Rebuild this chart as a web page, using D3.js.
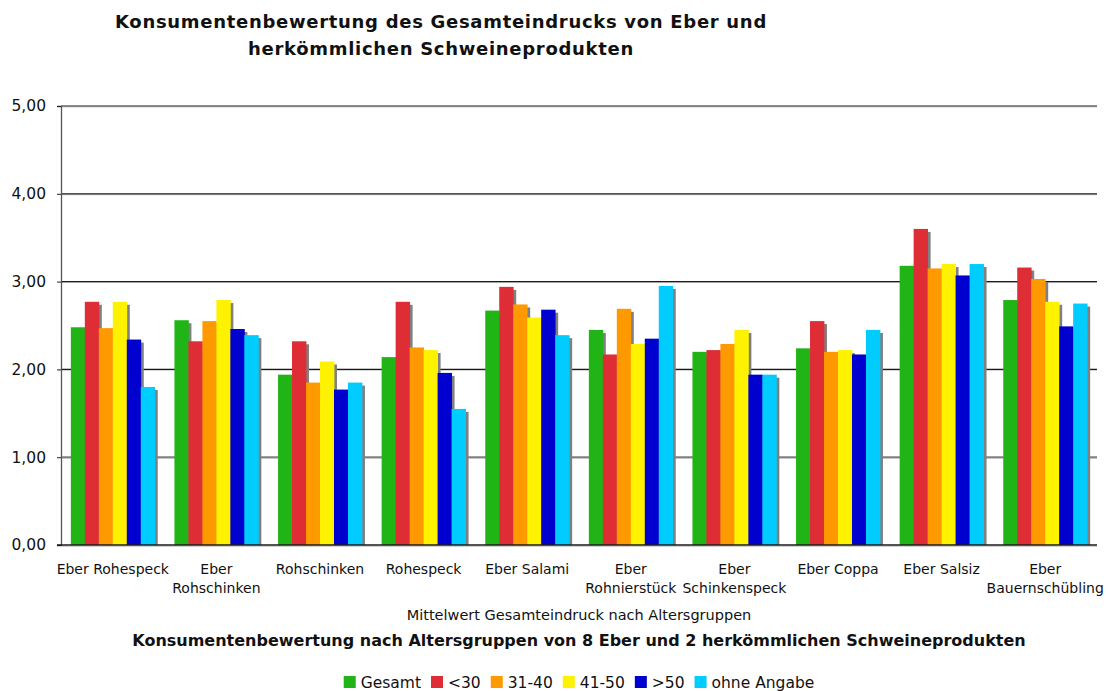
<!DOCTYPE html>
<html>
<head>
<meta charset="utf-8">
<script src="https://cdn.jsdelivr.net/npm/d3@7"></script>
<style>
    body { margin: 0; background: #fff; }
    svg { display: block; font-family: 'DejaVu Sans', Verdana, sans-serif; }
</style>
</head>
<body>
<svg id="chart" width="1108" height="691"></svg>
<script>
'use strict';

var categories = ['Eber Rohespeck', 'Eber Rohschinken', 'Rohschinken', 'Rohespeck', 'Eber Salami',
    'Eber Rohnierstück', 'Eber Schinkenspeck', 'Eber Coppa', 'Eber Salsiz', 'Eber Bauernschübling'];

var seriesNames = ['Gesamt', '<30', '31-40', '41-50', '>50', 'ohne Angabe'];
var seriesColors = ['#21b417', '#de2d35', '#ff9900', '#fff200', '#0000cf', '#00ccff'];

var gesamt = [2.48, 2.56, 1.94, 2.14, 2.67, 2.45, 2.20, 2.24, 3.18, 2.79];
var under30 = [2.77, 2.32, 2.32, 2.77, 2.94, 2.17, 2.22, 2.55, 3.60, 3.16];
var age31to40 = [2.47, 2.55, 1.85, 2.25, 2.74, 2.69, 2.29, 2.20, 3.15, 3.03];
var age41to50 = [2.77, 2.79, 2.09, 2.22, 2.59, 2.29, 2.45, 2.22, 3.20, 2.77];
var over50 = [2.34, 2.46, 1.77, 1.96, 2.68, 2.35, 1.94, 2.17, 3.07, 2.49];
var ohneAngabe = [1.80, 2.39, 1.85, 1.55, 2.39, 2.95, 1.94, 2.45, 3.20, 2.75];

var yTicks = [0, 1, 2, 3, 4, 5];

var titleLines = ['Konsumentenbewertung des Gesamteindrucks von Eber und', 'herkömmlichen Schweineprodukten'];
var axisTitle = 'Mittelwert Gesamteindruck nach Altersgruppen';
var subTitle = 'Konsumentenbewertung nach Altersgruppen von 8 Eber und 2 herkömmlichen Schweineprodukten';

var seriesValues = [gesamt, under30, age31to40, age41to50, over50, ohneAngabe];

var PLOT_LEFT = 61;
var PLOT_RIGHT = 1097;
var PLOT_TOP = 106;
var PLOT_BOTTOM = 545;
var SHADOW = 3;
var WRAP_WIDTH = 120;

var svg = d3.select('#chart');

var locale = d3.formatLocale({ decimal: ',', thousands: '.', grouping: [3], currency: ['', ' €'] });
var fmt = locale.format('.2f');

var x = d3.scaleBand()
    .domain(categories)
    .range([PLOT_LEFT, PLOT_RIGHT])
    .paddingInner(0.19)
    .paddingOuter(0.095);

var xInner = d3.scaleBand()
    .domain(seriesNames)
    .range([0, x.bandwidth()]);

var y = d3.scaleLinear()
    .domain([0, 5])
    .range([PLOT_BOTTOM, PLOT_TOP]);

// flat list of bars
var bars = [];
categories.forEach(function(cat, i) {
    seriesNames.forEach(function(name, s) {
        bars.push({ cat: cat, series: name, color: seriesColors[s], value: seriesValues[s][i] });
    });
});

// gridlines
var grid = svg.append('g');
yTicks.filter(function(t) { return t > 0; }).forEach(function(t) {
    grid.append('line')
        .attr('x1', PLOT_LEFT).attr('x2', PLOT_RIGHT)
        .attr('y1', y(t) + 1).attr('y2', y(t) + 1)
        .attr('stroke', '#d0d0d0').attr('stroke-width', 1);
    grid.append('line')
        .attr('x1', PLOT_LEFT).attr('x2', PLOT_RIGHT)
        .attr('y1', y(t)).attr('y2', y(t))
        .attr('stroke', t === 1 ? '#808080' : '#1a1a1a')
        .attr('stroke-width', t === 1 ? 2 : 1.2);
});

// shadows first, then the coloured bars on top
svg.append('g').selectAll('rect')
    .data(bars)
    .join('rect')
    .attr('x', function(d) { return x(d.cat) + xInner(d.series) + SHADOW; })
    .attr('y', function(d) { return y(d.value) + SHADOW; })
    .attr('width', xInner.bandwidth())
    .attr('height', function(d) { return PLOT_BOTTOM - y(d.value) - SHADOW; })
    .attr('fill', '#808080');

svg.append('g').selectAll('rect')
    .data(bars)
    .join('rect')
    .attr('x', function(d) { return x(d.cat) + xInner(d.series); })
    .attr('y', function(d) { return y(d.value); })
    .attr('width', xInner.bandwidth() + 0.4)
    .attr('height', function(d) { return PLOT_BOTTOM - y(d.value); })
    .attr('fill', function(d) { return d.color; });

// y axis
var yAxis = svg.append('g')
    .attr('transform', 'translate(' + PLOT_LEFT + ',0)')
    .call(d3.axisLeft(y).tickValues(yTicks).tickFormat(fmt).tickSize(4).tickPadding(11));
yAxis.select('.domain').attr('stroke', '#555').attr('stroke-width', 1.3);
yAxis.selectAll('.tick line').attr('stroke', '#222');
yAxis.selectAll('.tick text')
    .attr('font-size', 15.5)
    .attr('fill', '#111')
    .attr('font-family', "'DejaVu Sans', Verdana, sans-serif");

// baseline
svg.append('line')
    .attr('x1', PLOT_LEFT - 4).attr('x2', PLOT_RIGHT)
    .attr('y1', PLOT_BOTTOM + 1.5).attr('y2', PLOT_BOTTOM + 1.5)
    .attr('stroke', '#d0d0d0').attr('stroke-width', 1);
svg.append('line')
    .attr('x1', PLOT_LEFT - 4).attr('x2', PLOT_RIGHT)
    .attr('y1', PLOT_BOTTOM).attr('y2', PLOT_BOTTOM)
    .attr('stroke', '#1a1a1a').attr('stroke-width', 1.5);

// category labels, wrapped when wider than the band
var labelGroup = svg.append('g').attr('font-size', 14).attr('fill', '#111');
categories.forEach(function(cat) {
    var cx = x(cat) + x.bandwidth() / 2;
    var t = labelGroup.append('text')
        .attr('x', cx).attr('y', 574)
        .attr('text-anchor', 'middle')
        .text(cat);
    if (t.node().getComputedTextLength() > WRAP_WIDTH) {
        var words = cat.split(' ');
        t.text(null);
        t.append('tspan').attr('x', cx).attr('y', 574).text(words[0]);
        t.append('tspan').attr('x', cx).attr('y', 593).text(words.slice(1).join(' '));
    }
});

// titles
var titleCenter = 441;
titleLines.forEach(function(line, i) {
    svg.append('text')
        .attr('x', titleCenter).attr('y', 28 + i * 27)
        .attr('text-anchor', 'middle')
        .attr('font-size', 18).attr('font-weight', 'bold')
        .attr('letter-spacing', 0.7)
        .attr('fill', '#111')
        .text(line);
});

var plotCenter = (PLOT_LEFT + PLOT_RIGHT) / 2;
svg.append('text')
    .attr('x', plotCenter).attr('y', 620)
    .attr('text-anchor', 'middle')
    .attr('font-size', 14.5).attr('fill', '#111')
    .text(axisTitle);

svg.append('text')
    .attr('x', plotCenter).attr('y', 646)
    .attr('text-anchor', 'middle')
    .attr('font-size', 16).attr('font-weight', 'bold')
    .attr('fill', '#111')
    .text(subTitle);

// legend, laid out from measured text widths then centred
var legend = svg.append('g');
var cursor = 0;
seriesNames.forEach(function(name, s) {
    var item = legend.append('g').attr('transform', 'translate(' + cursor + ',0)');
    item.append('rect')
        .attr('x', 0).attr('y', -12)
        .attr('width', 12).attr('height', 12)
        .attr('fill', seriesColors[s]);
    var label = item.append('text')
        .attr('x', 17).attr('y', 0)
        .attr('font-size', 15.5).attr('fill', '#111')
        .text(name);
    cursor += 17 + label.node().getComputedTextLength() + 10;
});
cursor -= 10;
legend.attr('transform', 'translate(' + (plotCenter - cursor / 2) + ',688)');
</script>
</body>
</html>
